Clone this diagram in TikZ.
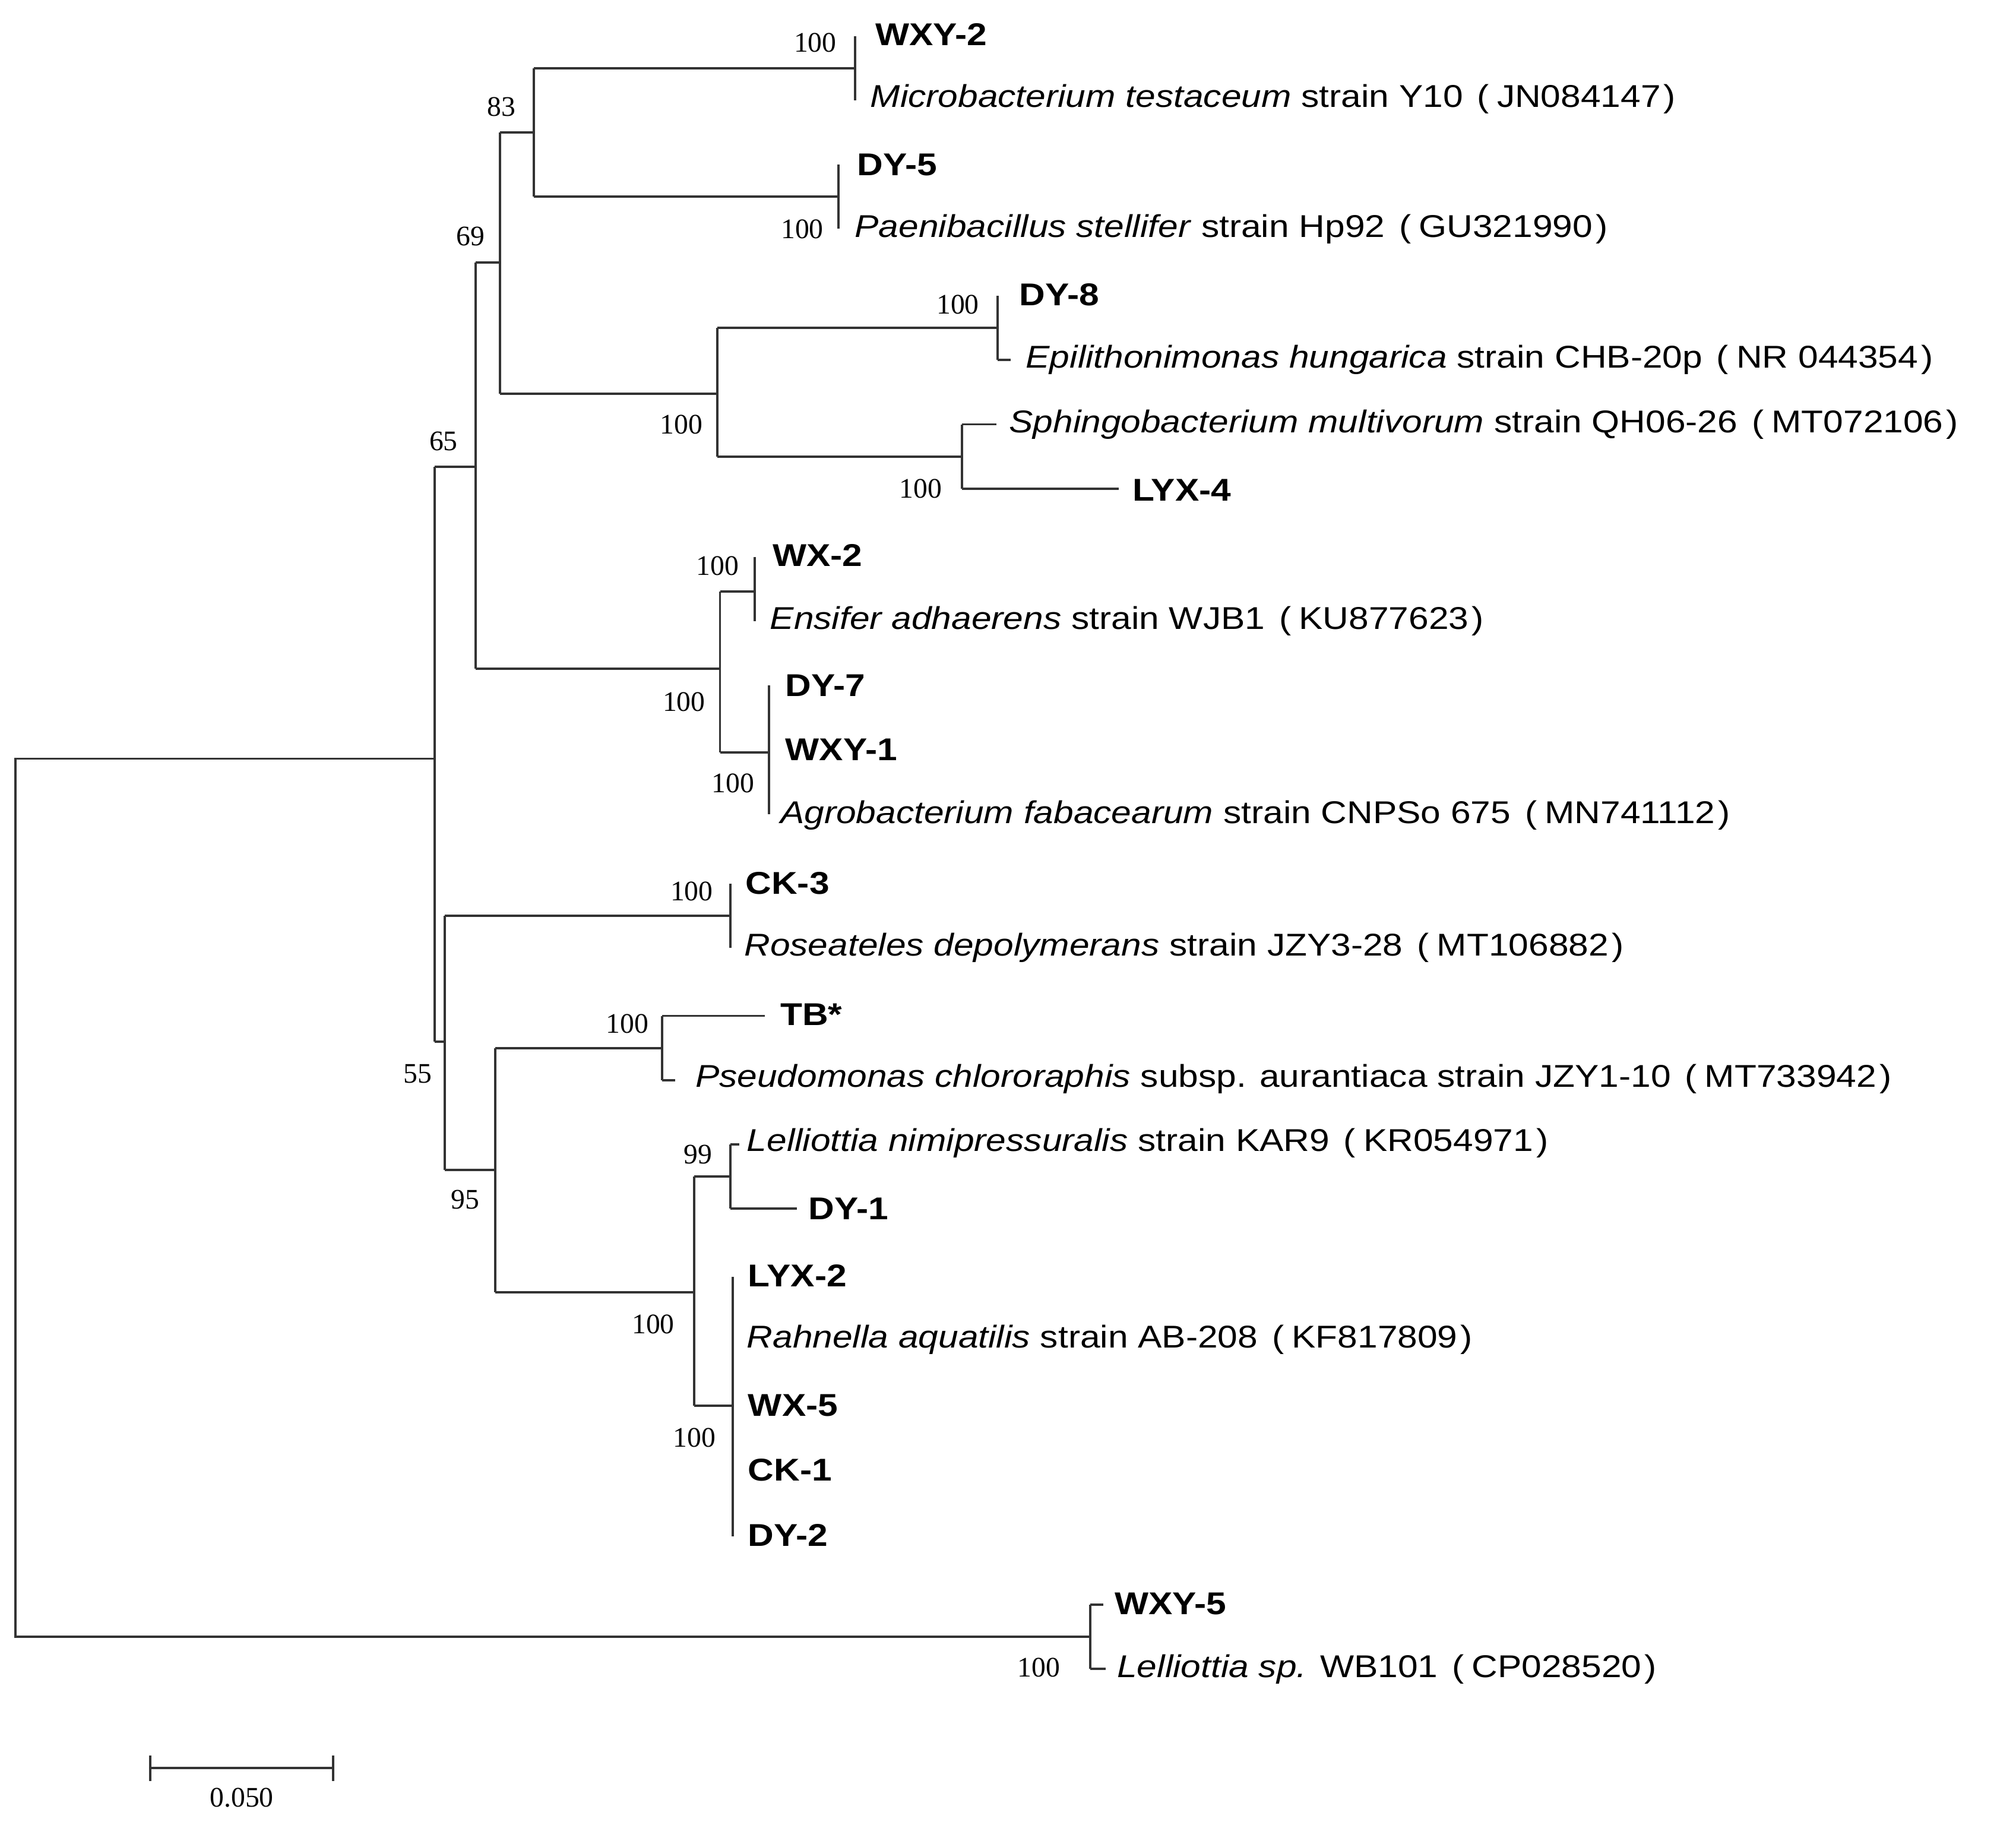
\documentclass[tikz,border=0pt]{standalone}
\usepackage{fontspec}
\setmainfont{Liberation Sans}[FakeStretch=1.14]
\newfontfamily\bsfont{Liberation Serif}
\begin{document}
\begin{tikzpicture}[x=1pt,y=-1pt,line width=1.8pt,draw=black!80,
  leaf/.style={anchor=west,inner sep=0pt,font=\fontsize{24.5}{28}\selectfont},
  bs/.style={inner sep=0pt,font=\bsfont\fontsize{22}{25}\selectfont}]
\useasboundingbox (0,0) rectangle (1568,1419);
\def\acc#1{\hspace{0.45em}(\hspace{0.25em}#1\hspace{0.1em})}
% root
\draw (338,590) -- (12,590) -- (12,1273) -- (848,1273);
% node 65
\draw (338,363) -- (338,810);
\node[bs] at (345,343) {65};
\draw (338,363) -- (370,363);
% node 69
\draw (370,204) -- (370,520);
\node[bs] at (366,184) {69};
\draw (370,204) -- (389,204);
\draw (389,103) -- (389,306);
\draw (389,103) -- (415,103);
% node 83
\draw (415,53) -- (415,153);
\node[bs] at (390,83) {83};
\draw (415,53) -- (665,53); \draw (665,28) -- (665,78);
\node[bs] at (634,33) {100};
\node[leaf] (wxy2) at (680,27) {\textbf{WXY-2}};
\node[leaf] (mt) at (676,77) {\textit{Microbacterium testaceum} strain Y10\acc{JN084147}};
\draw (415,153) -- (652,153); \draw (652,128) -- (652,178);
\node[bs] at (624,178) {100};
\node[leaf] (dy5) at (666,128) {\textbf{DY-5}};
\node[leaf] (ps) at (664,178) {\textit{Paenibacillus stellifer} strain Hp92\acc{GU321990}};
% DY-8 clade
\draw (389,306) -- (558,306); \draw (558,255) -- (558,355);
\node[bs] at (530,330) {100};
\draw (558,255) -- (776,255); \draw (776,230) -- (776,280);
\node[bs] at (745,237) {100};
\draw (776,280) -- (786,280);
\node[leaf] (dy8) at (792,229) {\textbf{DY-8}};
\node[leaf] (eh) at (797,280) {\textit{Epilithonimonas hungarica} strain CHB-20p\acc{NR 044354}};
\draw (558,355) -- (748,355); \draw (748,330) -- (748,380);
\node[bs] at (716,380) {100};
\draw (748,330) -- (775,330); \draw (748,380) -- (870,380);
\node[leaf] (sm) at (784,330) {\textit{Sphingobacterium multivorum} strain QH06-26\acc{MT072106}};
\node[leaf] (lyx4) at (880,381) {\textbf{LYX-4}};
% WX-2 clade
\draw (370,520) -- (560,520); \draw (560,460) -- (560,585);
\node[bs] at (532,546) {100};
\draw (560,460) -- (587,460); \draw (587,433) -- (587,483);
\node[bs] at (558,440) {100};
\node[leaf] (wx2) at (600,432) {\textbf{WX-2}};
\node[leaf] (ea) at (598,483) {\textit{Ensifer adhaerens} strain WJB1\acc{KU877623}};
\draw (560,585) -- (598,585); \draw (598,533) -- (598,633);
\node[bs] at (570,609) {100};
\node[leaf] (dy7) at (610,533) {\textbf{DY-7}};
\node[leaf] (wxy1) at (610,583) {\textbf{WXY-1}};
\node[leaf] (af) at (606,634) {\textit{Agrobacterium fabacearum} strain CNPSo 675\acc{MN741112}};
% node 55
\draw (338,810) -- (346,810); \draw (346,712) -- (346,910);
\node[bs] at (325,835) {55};
\draw (346,712) -- (568,712); \draw (568,687) -- (568,737);
\node[bs] at (538,693) {100};
\node[leaf] (ck3) at (579,687) {\textbf{CK-3}};
\node[leaf] (rd) at (578,737) {\textit{Roseateles depolymerans} strain JZY3-28\acc{MT106882}};
% node 95
\draw (346,910) -- (385,910); \draw (385,815) -- (385,1005);
\node[bs] at (362,933) {95};
\draw (385,815) -- (515,815); \draw (515,790) -- (515,840);
\node[bs] at (488,796) {100};
\draw (515,790) -- (595,790); \draw (515,840) -- (525,840);
\node[leaf] (tb) at (606,789) {\textbf{TB*}};
\node[leaf] (pc) at (540,839) {\textit{Pseudomonas chlororaphis} subsp. aurantiaca strain JZY1-10\acc{MT733942}};
\draw (385,1005) -- (540,1005); \draw (540,915) -- (540,1093);
\node[bs] at (508,1030) {100};
\draw (540,915) -- (568,915); \draw (568,890) -- (568,940);
\node[bs] at (543,898) {99};
\draw (568,890) -- (575,890); \draw (568,940) -- (620,940);
\node[leaf] (ln) at (580,889) {\textit{Lelliottia nimipressuralis} strain KAR9\acc{KR054971}};
\node[leaf] (dy1) at (628,940) {\textbf{DY-1}};
\draw (540,1093) -- (570,1093); \draw (570,993) -- (570,1195);
\node[bs] at (540,1118) {100};
\node[leaf] (lyx2) at (581,992) {\textbf{LYX-2}};
\node[leaf] (ra) at (580,1042) {\textit{Rahnella aquatilis} strain AB-208\acc{KF817809}};
\node[leaf] (wx5) at (581,1093) {\textbf{WX-5}};
\node[leaf] (ck1) at (581,1143) {\textbf{CK-1}};
\node[leaf] (dy2) at (581,1194) {\textbf{DY-2}};
% WXY-5 clade
\draw (848,1248) -- (848,1298);
\draw (848,1248) -- (858,1248); \draw (848,1298) -- (860,1298);
\node[bs] at (808,1297) {100};
\node[leaf] (wxy5) at (866,1247) {\textbf{WXY-5}};
\node[leaf] (ls) at (868,1298) {\textit{Lelliottia sp.} WB101\acc{CP028520}};
% scale bar
\draw (117,1375) -- (259,1375);
\draw (117,1365) -- (117,1385); \draw (259,1365) -- (259,1385);
\node[bs] (sc) at (188,1398) {0.050};
\end{tikzpicture}
\end{document}
